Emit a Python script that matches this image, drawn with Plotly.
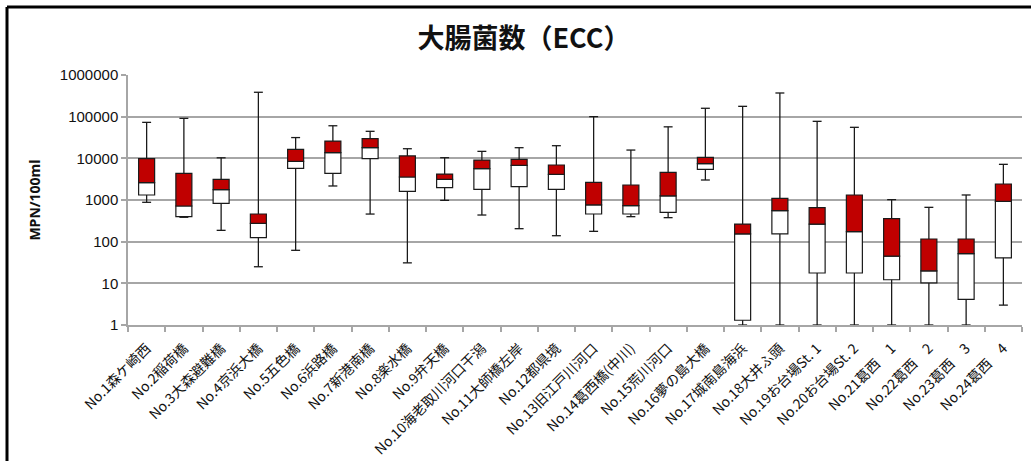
import plotly.graph_objects as go

# Sampling stations
GAP = "\u3000"
stations = [
    "No.1森ケ崎西", "No.2稲荷橋", "No.3大森避難橋", "No.4京浜大橋", "No.5五色橋",
    "No.6浜路橋", "No.7新港南橋", "No.8楽水橋", "No.9弁天橋", "No.10海老取川河口干潟",
    "No.11大師橋左岸", "No.12都県境", "No.13旧江戸川河口", "No.14葛西橋(中川)",
    "No.15荒川河口", "No.16夢の島大橋", "No.17城南島海浜", "No.18大井ふ頭",
    "No.19お台場St. 1", "No.20お台場St. 2", "No.21葛西" + GAP + "1",
    "No.22葛西" + GAP + "2", "No.23葛西" + GAP + "3", "No.24葛西" + GAP + "4",
]

# E. coli counts (MPN/100ml) summary per station
ecc_min = [880, 385, 187, 25, 62, 2170, 460, 31, 980, 436, 205, 139,
           177, 398, 377, 3020, 1, 1, 1, 1, 1, 1, 1, 3]
ecc_q1 = [1320, 398, 830, 125, 5750, 4370, 9800, 1615, 1975, 1800, 2090, 1800,
          461, 461, 506, 5450, 1.3, 153, 17.7, 17.7, 12.2, 10.2, 4.1, 41]
ecc_median = [2600, 718, 1770, 276, 8480, 13700, 18000, 3560, 3140, 5650, 6800, 4130,
              760, 730, 1250, 7440, 153, 555, 265, 174, 45, 20, 51.5, 930]
ecc_q3 = [9800, 4370, 3140, 461, 16400, 26000, 29600, 11400, 4200, 9100, 9470, 6920,
          2660, 2290, 4620, 10600, 265, 1100, 654, 1320, 356, 116, 116, 2420]
ecc_max = [73000, 91000, 10300, 385000, 31500, 60500, 44500, 17000, 10350, 14700,
           18000, 20100, 100000, 15800, 57000, 159000, 177000, 370000, 77300, 55500,
           1020, 667, 1320, 7180]

y_ticks = [1, 10, 100, 1000, 10000, 100000, 1000000]

RED = "#c00000"
EDGE = "#1a1a1a"
GRID = "#a6a6a6"

pos = list(range(len(stations)))
box_w = 0.43
cap = 0.12

fig = go.Figure()

# lower half of box: Q1 -> median (white)
fig.add_trace(go.Bar(
    x=pos, base=ecc_q1, y=[m - q for m, q in zip(ecc_median, ecc_q1)],
    width=box_w, marker=dict(color="white", line=dict(color=EDGE, width=1.2)),
    hoverinfo="skip", showlegend=False,
))
# upper half of box: median -> Q3 (red)
fig.add_trace(go.Bar(
    x=pos, base=ecc_median, y=[q - m for q, m in zip(ecc_q3, ecc_median)],
    width=box_w, marker=dict(color=RED, line=dict(color=EDGE, width=1.2)),
    hoverinfo="skip", showlegend=False,
))

# whiskers with end caps
wx, wy = [], []
for i in pos:
    wx += [i, i, None, i - cap, i + cap, None, i, i, None, i - cap, i + cap, None]
    wy += [ecc_q3[i], ecc_max[i], None, ecc_max[i], ecc_max[i], None,
           ecc_min[i], ecc_q1[i], None, ecc_min[i], ecc_min[i], None]
fig.add_trace(go.Scatter(
    x=wx, y=wy, mode="lines", line=dict(color=EDGE, width=1.3),
    hoverinfo="skip", showlegend=False, connectgaps=False,
))

# frame lines along top and left of the chart area
L, R, T, B = 128, 9, 75, 136
W, H = 1031, 461
pw, ph = W - L - R, H - T - B
px = lambda p: (p - L) / pw
py = lambda p: (H - B - p) / ph
fig.add_shape(type="line", xref="paper", yref="paper",
              x0=px(7), x1=px(1031), y0=py(7), y1=py(7),
              line=dict(color="black", width=3))
fig.add_shape(type="line", xref="paper", yref="paper",
              x0=px(7), x1=px(7), y0=py(7), y1=py(461),
              line=dict(color="black", width=3))

fig.update_layout(
    width=W, height=H,
    margin=dict(l=L, r=R, t=T, b=B),
    paper_bgcolor="white", plot_bgcolor="white",
    barmode="overlay",
    title=dict(text="<b>大腸菌数（ECC）</b>", x=524 / W, xanchor="center",
               y=1 - 39 / H, yanchor="middle",
               font=dict(family="Noto Sans CJK JP", size=27, color="#111")),
    font=dict(family="Noto Sans CJK JP", color="#111"),
)

fig.update_xaxes(
    range=[-0.5, len(stations) - 0.5], automargin=False,
    tickvals=pos, ticktext=stations, tickangle=-45,
    ticks="", showgrid=False, zeroline=False,
    showline=True, linecolor=GRID, linewidth=1.5,
    ticklabelstandoff=8,
    tickfont=dict(family="Noto Sans CJK JP", size=14, color="#111"),
    minor=dict(tickvals=[i - 0.5 for i in range(len(stations) + 1)],
               ticks="outside", ticklen=5, tickcolor=GRID, tickwidth=1.5,
               showgrid=False),
)
fig.update_yaxes(
    type="log", range=[0, 6], automargin=False,
    tickvals=y_ticks, ticktext=[str(v) for v in y_ticks],
    ticks="outside", ticklen=5, tickcolor=GRID, tickwidth=1.5,
    showline=True, linecolor=GRID, linewidth=1.5,
    showgrid=True, gridcolor=GRID, gridwidth=1.5, zeroline=False,
    tickfont=dict(family="Liberation Sans", size=15, color="#111"),
    title=dict(text="<b>MPN/100ml</b>", standoff=16,
               font=dict(family="Open Sans", size=14, color="#111")),
)

fig.write_html("out.html")
